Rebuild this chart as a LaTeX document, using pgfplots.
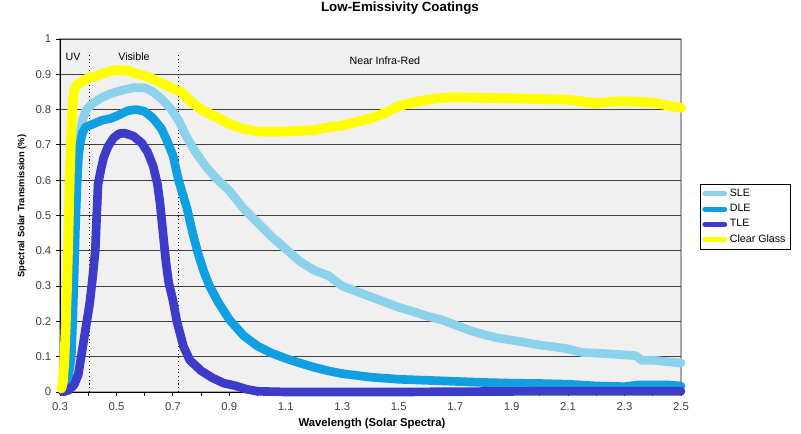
\documentclass[border=0pt]{standalone}
\usepackage{pgfplots}
\pgfplotsset{compat=1.18}
\usepackage{fontspec}
\setmainfont{Liberation Sans}
\definecolor{sle}{HTML}{8CD2EB}
\definecolor{dle}{HTML}{10A0E1}
\definecolor{tle}{HTML}{3C3CC8}
\definecolor{cg}{HTML}{FFFF00}
\definecolor{bg}{HTML}{F0F0F0}
\begin{document}
\begin{tikzpicture}
\path[use as bounding box] (-45pt,-31.5pt) rectangle (555.75pt,294pt);
\begin{axis}[
  scale only axis, width=465.75pt, height=264.75pt,
  xmin=0.3, xmax=2.5, ymin=0, ymax=1,
  axis lines=left, axis line style={-, black, line width=0.7pt},
  axis background/.style={fill=bg, draw=gray!70, line width=0.8pt},
  clip=false,
  xtick={0.3,0.5,0.7,0.9,1.1,1.3,1.5,1.7,1.9,2.1,2.3,2.5},
  xticklabels={0.3,0.5,0.7,0.9,1.1,1.3,1.5,1.7,1.9,2.1,2.3,2.5},
  minor xtick={0.4,0.6,0.8,1.0,1.2,1.4,1.6,1.8,2.0,2.2,2.4},
  ytick={0,0.1,0.2,0.3,0.4,0.5,0.6,0.7,0.8,0.9,1},
  yticklabels={0,0.1,0.2,0.3,0.4,0.5,0.6,0.7,0.8,0.9,1},
  tick align=outside, major tick length=3pt, minor tick length=3pt,
  tick style={black, line width=0.7pt},
  ymajorgrids, grid style={black!75, line width=0.7pt},
  /pgf/number format/assume math mode=true,
  tick label style={font=\fontsize{8.5}{10}\selectfont, color=black!75},
  xticklabel style={yshift=-1.5pt},
  legend style={at={(1.0306,0.589)}, anchor=north west, draw=black, line width=0.6pt,
    font=\fontsize{8}{10}\selectfont, inner sep=1.5pt, row sep=0.4pt, fill=white},
  legend cell align=left,
  legend image code/.code={\draw[line width=3.6pt, line cap=round, #1] (0pt,0pt) -- (15pt,0pt);},
]
\addplot[black, dotted, line width=0.8pt, forget plot] coordinates {(0.405,0) (0.405,0.955)};
\addplot[black, dotted, line width=0.8pt, forget plot] coordinates {(0.72,0) (0.72,0.955)};
\addplot[sle, line width=6.5pt, line join=round, line cap=round] coordinates {
(0.31,0.01) (0.32,0.02) (0.33,0.05) (0.335,0.12) (0.34,0.22) (0.345,0.34) (0.35,0.47) (0.355,0.58)
(0.36,0.66) (0.37,0.73) (0.38,0.77) (0.39,0.795) (0.40,0.805) (0.42,0.82) (0.45,0.835) (0.48,0.845)
(0.52,0.855) (0.56,0.862) (0.60,0.862) (0.63,0.85) (0.66,0.83) (0.69,0.805) (0.72,0.77) (0.75,0.72)
(0.78,0.68) (0.82,0.635) (0.86,0.60) (0.90,0.57) (0.95,0.52) (1.00,0.48) (1.05,0.44) (1.10,0.405)
(1.15,0.37) (1.20,0.345) (1.25,0.33) (1.30,0.30) (1.35,0.285) (1.40,0.27) (1.45,0.255) (1.50,0.24)
(1.55,0.228) (1.60,0.215) (1.65,0.205) (1.70,0.19) (1.75,0.175) (1.80,0.163) (1.85,0.153) (1.90,0.147)
(1.95,0.14) (2.00,0.133) (2.05,0.128) (2.10,0.122) (2.15,0.112) (2.20,0.11) (2.25,0.108) (2.30,0.105)
(2.34,0.103) (2.36,0.09) (2.40,0.09) (2.45,0.086) (2.50,0.082)};
\addlegendentry{SLE}
\addplot[dle, line width=6.5pt, line join=round, line cap=round] coordinates {
(0.305,0.01) (0.32,0.02) (0.33,0.04) (0.34,0.10) (0.345,0.20) (0.35,0.33) (0.355,0.47) (0.36,0.58)
(0.365,0.66) (0.37,0.70) (0.38,0.735) (0.39,0.75) (0.42,0.76) (0.45,0.77) (0.48,0.775) (0.51,0.785)
(0.54,0.797) (0.57,0.80) (0.60,0.795) (0.63,0.775) (0.66,0.745) (0.68,0.71) (0.70,0.67) (0.72,0.60)
(0.735,0.56) (0.75,0.52) (0.77,0.45) (0.79,0.39) (0.81,0.34) (0.83,0.30) (0.86,0.255) (0.90,0.205)
(0.95,0.16) (1.00,0.13) (1.05,0.11) (1.10,0.095) (1.15,0.082) (1.20,0.07) (1.25,0.06) (1.30,0.052)
(1.40,0.042) (1.50,0.036) (1.60,0.033) (1.70,0.03) (1.80,0.027) (1.90,0.025) (2.00,0.024) (2.10,0.022)
(2.20,0.017) (2.30,0.015) (2.35,0.02) (2.45,0.02) (2.50,0.017)};
\addlegendentry{DLE}
\addplot[tle, line width=6.5pt, line join=round, line cap=round] coordinates {
(0.31,0.0) (0.33,0.005) (0.35,0.02) (0.365,0.05) (0.375,0.10) (0.385,0.15) (0.395,0.20) (0.405,0.25)
(0.415,0.32) (0.425,0.40) (0.43,0.50) (0.435,0.59) (0.445,0.63) (0.455,0.665) (0.47,0.695) (0.49,0.72)
(0.51,0.732) (0.53,0.733) (0.56,0.725) (0.59,0.705) (0.61,0.68) (0.63,0.64) (0.645,0.59) (0.655,0.53)
(0.665,0.45) (0.675,0.37) (0.685,0.31) (0.70,0.26) (0.714,0.20) (0.737,0.13) (0.76,0.09) (0.80,0.06)
(0.84,0.04) (0.88,0.025) (0.92,0.018) (0.96,0.008) (1.00,0.002) (1.10,0) (1.50,0) (2.00,0.002) (2.50,0.002)};
\addlegendentry{TLE}
\addplot[cg, line width=7.3pt, line join=round, line cap=round] coordinates {
(0.305,0.01) (0.31,0.03) (0.315,0.08) (0.32,0.18) (0.325,0.30) (0.33,0.45) (0.335,0.62) (0.34,0.74)
(0.345,0.82) (0.35,0.855) (0.36,0.87) (0.38,0.88) (0.40,0.89) (0.43,0.895) (0.46,0.905) (0.50,0.912)
(0.54,0.91) (0.58,0.90) (0.62,0.89) (0.66,0.875) (0.70,0.86) (0.73,0.85) (0.76,0.825) (0.80,0.80)
(0.85,0.78) (0.90,0.76) (0.95,0.745) (1.00,0.738) (1.05,0.737) (1.10,0.738) (1.15,0.74) (1.20,0.742)
(1.25,0.75) (1.30,0.755) (1.35,0.765) (1.40,0.775) (1.45,0.79) (1.50,0.81) (1.55,0.82) (1.60,0.828)
(1.65,0.833) (1.70,0.835) (1.80,0.833) (1.90,0.832) (2.00,0.83) (2.10,0.828) (2.15,0.823) (2.20,0.818)
(2.25,0.822) (2.30,0.824) (2.40,0.82) (2.45,0.812) (2.50,0.805)};
\addlegendentry{Clear Glass}
\node[font=\fontsize{8}{9}\selectfont] at (axis cs:0.346,0.949) {UV};
\node[font=\fontsize{8}{9}\selectfont] at (axis cs:0.562,0.949) {Visible};
\node[font=\fontsize{8}{9}\selectfont] at (axis cs:1.451,0.938) {Near Infra-Red};
\end{axis}
\node[font=\bfseries\fontsize{10}{12}\selectfont] at (255pt,288.3pt) {Low-Emissivity Coatings};
\node[font=\bfseries\fontsize{7}{8.4}\selectfont, rotate=90] at (-28.5pt,139.5pt) {Spectral Solar Transmission (\%)};
\node[font=\bfseries\fontsize{8.5}{10}\selectfont] at (234pt,-23.75pt) {Wavelength (Solar Spectra)};
\end{tikzpicture}
\end{document}
